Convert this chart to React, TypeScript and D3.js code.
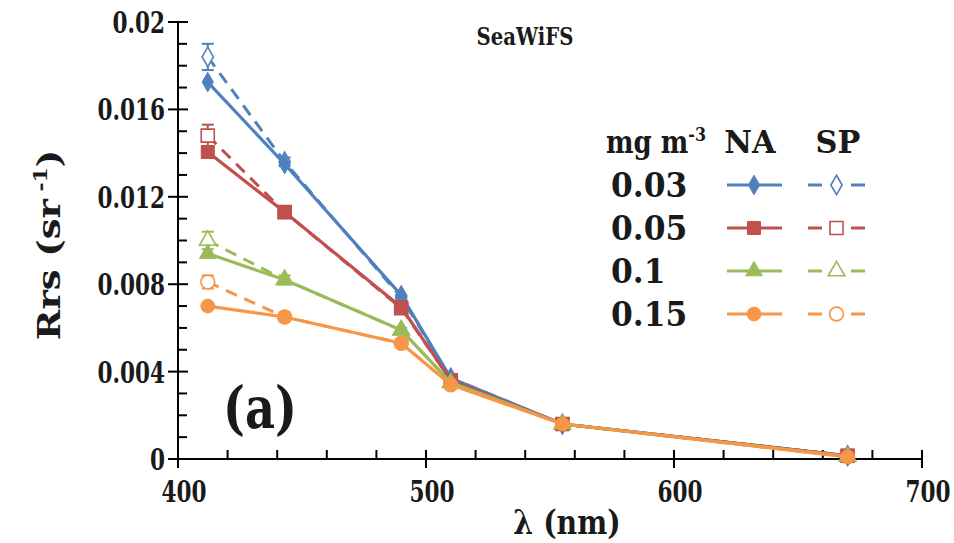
import React from "react";
import * as d3 from "d3";

// SeaWiFS band centres (nm)
const wavelengths = [412, 443, 490, 510, 555, 670];

// Chlorophyll classes (mg m^-3)
const classes = ["0.03", "0.05", "0.1", "0.15"];
const colors = ["#4F81BD", "#C0504D", "#9BBB59", "#F79646"];
const shapes = ["diamond", "square", "triangle", "circle"];

// Mean Rrs spectra, North Atlantic (NA)
const naValues = [
  [0.01725, 0.0135, 0.0075, 0.0037, 0.0016, 0.00015],
  [0.01405, 0.0113, 0.00695, 0.0036, 0.0016, 0.00015],
  [0.0094, 0.0082, 0.0059, 0.0035, 0.0016, 0.00012],
  [0.0070, 0.0065, 0.0053, 0.0034, 0.0016, 0.0001],
];

// Mean Rrs spectra, South Pacific (SP)
const spValues = [
  [0.0184, 0.0136, 0.0074, 0.0037, 0.0016, 0.00015],
  [0.0148, 0.0113, 0.0069, 0.0036, 0.0016, 0.00015],
  [0.0100, 0.0082, 0.0059, 0.0035, 0.0016, 0.00012],
  [0.0081, 0.0065, 0.0053, 0.0034, 0.0016, 0.0001],
];

// Standard errors of the SP means
const spErrors = [
  [0.0006, 0.0002, 0.0001, 0.0001, 0.0001, 0.0001],
  [0.0005, 0.0002, 0.0001, 0.0001, 0.0001, 0.0001],
  [0.0004, 0.0002, 0.0001, 0.0001, 0.0001, 0.0001],
  [0.0003, 0.0002, 0.0001, 0.0001, 0.0001, 0.0001],
];

const xTicks = [400, 500, 600, 700];
const yTicks = [0, 0.004, 0.008, 0.012, 0.016, 0.02];
const yTickLabels = ["0", "0.004", "0.008", "0.012", "0.016", "0.02"];

const W = 954;
const H = 543;
const FONT = '"DejaVu Serif", serif';
const INK = "#1a1a1a";

const x = d3.scaleLinear().domain([400, 700]).range([178, 922]);
const y = d3.scaleLinear().domain([0, 0.02]).range([459, 22]);

const symbolType: Record<string, d3.SymbolType> = {
  diamond: d3.symbolDiamond,
  square: d3.symbolSquare,
  triangle: d3.symbolTriangle,
  circle: d3.symbolCircle,
};
const symbolSize: Record<string, number> = {
  diamond: 110,
  square: 170,
  triangle: 120,
  circle: 150,
};

function Marker({ shape, cx, cy, color, open }: { shape: string; cx: number; cy: number; color: string; open: boolean }) {
  const d = d3.symbol().type(symbolType[shape]).size(symbolSize[shape])()!;
  return (
    <path
      d={d}
      transform={`translate(${cx},${cy})`}
      fill={open ? "#fff" : color}
      stroke={color}
      strokeWidth={open ? 1.6 : 1}
    />
  );
}

// Text condensed horizontally to give the narrow bold-serif look
function T({
  x: tx,
  y: ty,
  size,
  sx = 1,
  rotate = 0,
  anchor = "start",
  children,
}: {
  x: number;
  y: number;
  size: number;
  sx?: number;
  rotate?: number;
  anchor?: string;
  children: React.ReactNode;
}) {
  return (
    <text
      transform={`translate(${tx},${ty}) rotate(${rotate}) scale(${sx},1)`}
      fontSize={size}
      textAnchor={anchor}
      fill={INK}
    >
      {children}
    </text>
  );
}

export default function App() {
  const line = d3
    .line<number>()
    .x((_, i) => x(wavelengths[i]))
    .y((v) => y(v));

  const minorX = d3.range(420, 700, 20).filter((v) => v % 100 !== 0);
  const minorY = d3.range(0.001, 0.02, 0.001).filter((_, i) => (i + 1) % 4 !== 0);

  const legendRows = [185, 228, 271, 314];

  return (
    <svg
      width={W}
      height={H}
      style={{ position: "absolute", left: 0, top: 0, background: "#fff", fontFamily: FONT, fontWeight: "bold" }}
    >
      <rect width={W} height={H} fill="#fff" />

      {/* axes */}
      <g stroke="#000" strokeWidth={2}>
        <line x1={x(400)} x2={x(700)} y1={y(0)} y2={y(0)} />
        <line x1={x(400)} x2={x(400)} y1={y(0)} y2={y(0.02)} />
        {xTicks.map((t) => (
          <line key={t} x1={x(t)} x2={x(t)} y1={y(0) - 9} y2={y(0) + 9} />
        ))}
        {minorX.map((t) => (
          <line key={t} x1={x(t)} x2={x(t)} y1={y(0) - 9} y2={y(0)} />
        ))}
        {yTicks.map((t) => (
          <line key={t} x1={x(400) - 10} x2={x(400) + 10} y1={y(t)} y2={y(t)} />
        ))}
        {minorY.map((t) => (
          <line key={t} x1={x(400)} x2={x(400) + 9} y1={y(t)} y2={y(t)} />
        ))}
      </g>

      {/* tick labels */}
      {xTicks.map((t) => (
        <T key={t} x={x(t) + 6} y={502} size={30} sx={0.72} anchor="middle">
          {t}
        </T>
      ))}
      {yTicks.map((t, i) => (
        <T key={t} x={165} y={y(t) + 11} size={30} sx={0.72} anchor="end">
          {yTickLabels[i]}
        </T>
      ))}

      {/* axis titles */}
      <T x={567} y={534} size={33} sx={0.86} anchor="middle">
        λ (nm)
      </T>
      <T x={60} y={245} size={32} sx={1.15} rotate={-90} anchor="middle">
        Rrs (sr<tspan fontSize={19} dy={-13}> -1</tspan>
        <tspan dy={13}>)</tspan>
      </T>

      <T x={525} y={45} size={24} sx={0.82} anchor="middle">
        SeaWiFS
      </T>
      <T x={260} y={428} size={58} sx={0.8} anchor="middle">
        (a)
      </T>

      {/* SP series: dashed lines, open markers, error bars */}
      {spValues.map((vals, k) => (
        <g key={"sp" + k}>
          <path d={line(vals)!} fill="none" stroke={colors[k]} strokeWidth={3} strokeDasharray="12,8" />
          {vals.map((v, i) => {
            const e = spErrors[k][i];
            const cx = x(wavelengths[i]);
            return (
              <g key={i} stroke={colors[k]} strokeWidth={2}>
                <line x1={cx} x2={cx} y1={y(v + e)} y2={y(v - e)} />
                <line x1={cx - 6} x2={cx + 6} y1={y(v + e)} y2={y(v + e)} />
                <line x1={cx - 6} x2={cx + 6} y1={y(v - e)} y2={y(v - e)} />
              </g>
            );
          })}
          {vals.map((v, i) => (
            <Marker key={i} shape={shapes[k]} cx={x(wavelengths[i])} cy={y(v)} color={colors[k]} open />
          ))}
        </g>
      ))}

      {/* NA series: solid lines, filled markers */}
      {naValues.map((vals, k) => (
        <g key={"na" + k}>
          <path d={line(vals)!} fill="none" stroke={colors[k]} strokeWidth={3.2} />
          {vals.map((v, i) => (
            <Marker key={i} shape={shapes[k]} cx={x(wavelengths[i])} cy={y(v)} color={colors[k]} open={false} />
          ))}
        </g>
      ))}

      {/* legend */}
      <T x={606} y={153} size={31} sx={0.84}>
        mg m<tspan fontSize={19} dy={-12}>-3</tspan>
      </T>
      <T x={750} y={153} size={31} sx={0.98} anchor="middle">NA</T>
      <T x={838} y={153} size={31} sx={0.98} anchor="middle">SP</T>
      {classes.map((c, k) => (
        <g key={c}>
          <T x={611} y={legendRows[k] + 12} size={33} sx={0.95}>
            {c}
          </T>
          <line x1={727} x2={782} y1={legendRows[k]} y2={legendRows[k]} stroke={colors[k]} strokeWidth={3.2} />
          <Marker shape={shapes[k]} cx={754} cy={legendRows[k]} color={colors[k]} open={false} />
          <line x1={808} x2={822} y1={legendRows[k]} y2={legendRows[k]} stroke={colors[k]} strokeWidth={3} />
          <line x1={851} x2={865} y1={legendRows[k]} y2={legendRows[k]} stroke={colors[k]} strokeWidth={3} />
          <Marker shape={shapes[k]} cx={836.5} cy={legendRows[k]} color={colors[k]} open />
        </g>
      ))}
    </svg>
  );
}
